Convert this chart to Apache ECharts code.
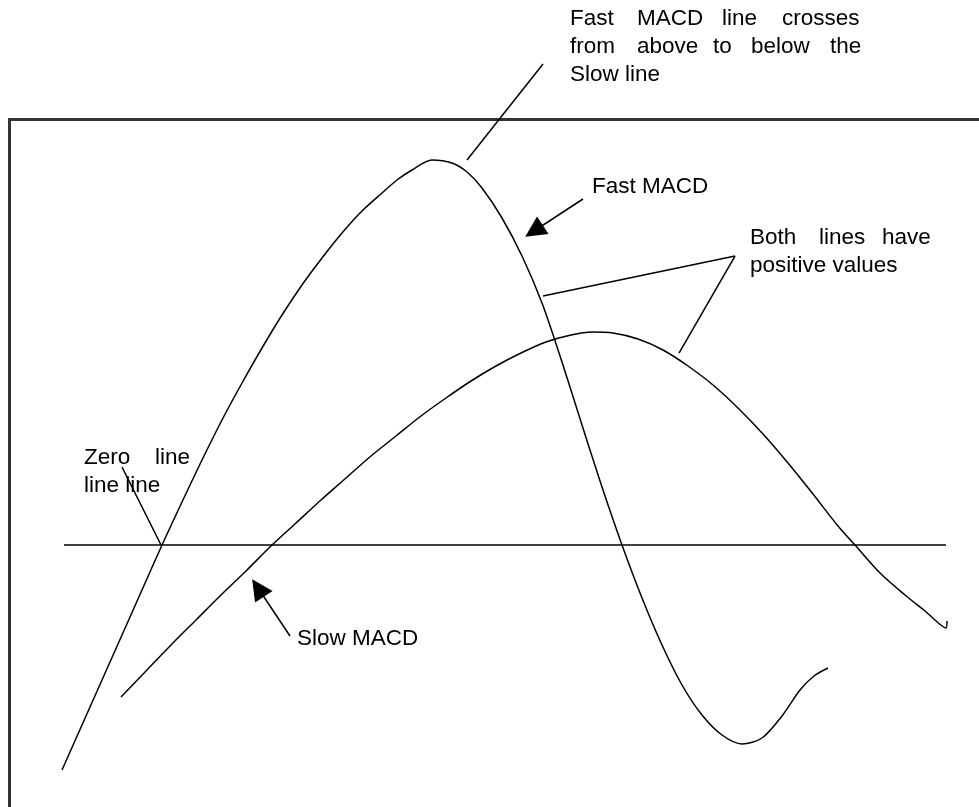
<!DOCTYPE html>
<html>
<head>
<meta charset="utf-8">
<title>MACD crossover</title>
<script src="https://cdn.jsdelivr.net/npm/echarts@6/dist/echarts.min.js"></script>
<style>
html, body { margin: 0; padding: 0; background: #fff; }
#chart { width: 979px; height: 807px; }
</style>
</head>
<body>
<div id="chart"></div>
<script>
// everything traced in page pixels: x to the right, y downwards
const fastMacd = [
  [62, 770], [82, 725], [102, 680], [122, 635], [142, 590], [162, 545], [182, 502],
  [202, 460], [222, 420], [242, 383], [262, 348], [282, 315], [302, 285], [322, 258],
  [342, 233], [362, 211], [382, 193], [397, 180], [412, 170], [432, 160], [452, 163],
  [467, 172], [482, 188], [502, 218], [522, 256], [542, 303], [562, 362], [582, 425],
  [602, 487], [622, 545], [642, 598], [662, 645], [682, 685], [702, 715], [722, 735],
  [742, 744], [762, 738], [782, 716], [800, 690], [814, 676], [828, 668]
];
const slowMacd = [
  [121, 697], [146, 671], [171, 645], [196, 620], [221, 595], [246, 571], [272, 545],
  [296, 523], [321, 500], [346, 478], [371, 456], [396, 436], [421, 416], [446, 398],
  [471, 381], [496, 366], [521, 353], [546, 342], [571, 335], [592, 332], [613, 333],
  [638, 339], [663, 350], [688, 366], [713, 385], [738, 408], [763, 434], [788, 463],
  [813, 494], [838, 526], [855, 545], [880, 573], [905, 595], [925, 611], [946, 628],
  [947, 621]
];
const zeroLine = [[64, 545], [946, 545]];

// leader lines without heads
const leaders = [
  [[543, 64], [467, 160]],
  [[122, 467], [161, 545]],
  [[735, 256], [543, 296]],
  [[735, 256], [679, 353]]
];
// leader lines ending in a filled triangle (end point = centre of the head)
const arrows = [
  [[583, 199], [534, 231]],
  [[290, 636], [258, 588]]
];

// labels: [text, x, y]
const labels = [
  ['Fast', 570, 19], ['MACD', 637, 19], ['line', 722, 19], ['crosses', 782, 19],
  ['from', 570, 47], ['above', 637, 47], ['to', 713, 47], ['below', 751, 47], ['the', 830, 47],
  ['Slow line', 570, 75],
  ['Fast MACD', 592, 187],
  ['Both', 750, 238], ['lines', 819, 238], ['have', 882, 238],
  ['positive values', 750, 266],
  ['Zero', 84, 458], ['line', 155, 458],
  ['line line', 84, 486],
  ['Slow MACD', 297, 639]
];

const font = '"Liberation Sans", Arial, sans-serif';
const ink = '#000';

const myChart = echarts.init(document.getElementById('chart'));

const option = {
  backgroundColor: '#fff',
  animation: false,
  grid: { left: 0, right: 0, top: 0, bottom: 0 },
  xAxis: { type: 'value', min: 0, max: 979, show: false },
  yAxis: { type: 'value', min: 0, max: 807, inverse: true, show: false },
  graphic: [
    {
      type: 'rect',
      shape: { x: 9.5, y: 119.5, width: 1200, height: 900 },
      style: { fill: 'none', stroke: '#333', lineWidth: 3 },
      z: 0
    }
  ].concat(labels.map(function (l) {
    return {
      type: 'text',
      x: l[1],
      y: l[2],
      style: {
        text: l[0],
        fill: ink,
        font: '22.5px ' + font,
        textAlign: 'left',
        textVerticalAlign: 'middle'
      },
      z: 10
    };
  })),
  series: [
    {
      name: 'Fast MACD',
      type: 'line',
      data: fastMacd,
      smooth: 0.3,
      showSymbol: false,
      lineStyle: { color: ink, width: 1.5 }
    },
    {
      name: 'Slow MACD',
      type: 'line',
      data: slowMacd,
      smooth: 0.3,
      showSymbol: false,
      lineStyle: { color: ink, width: 1.5 }
    },
    {
      name: 'Zero line',
      type: 'line',
      data: zeroLine,
      showSymbol: false,
      lineStyle: { color: ink, width: 1.5 }
    },
    {
      type: 'lines',
      coordinateSystem: 'cartesian2d',
      data: leaders.map(function (c) { return { coords: c }; }),
      lineStyle: { color: ink, width: 1.5, opacity: 1 },
      symbol: ['none', 'none']
    },
    {
      type: 'lines',
      coordinateSystem: 'cartesian2d',
      data: arrows.map(function (c) { return { coords: c }; }),
      lineStyle: { color: ink, width: 1.5, opacity: 1 },
      itemStyle: { color: ink },
      symbol: ['none', 'triangle'],
      symbolSize: 21
    }
  ]
};

myChart.setOption(option);
</script>
</body>
</html>
